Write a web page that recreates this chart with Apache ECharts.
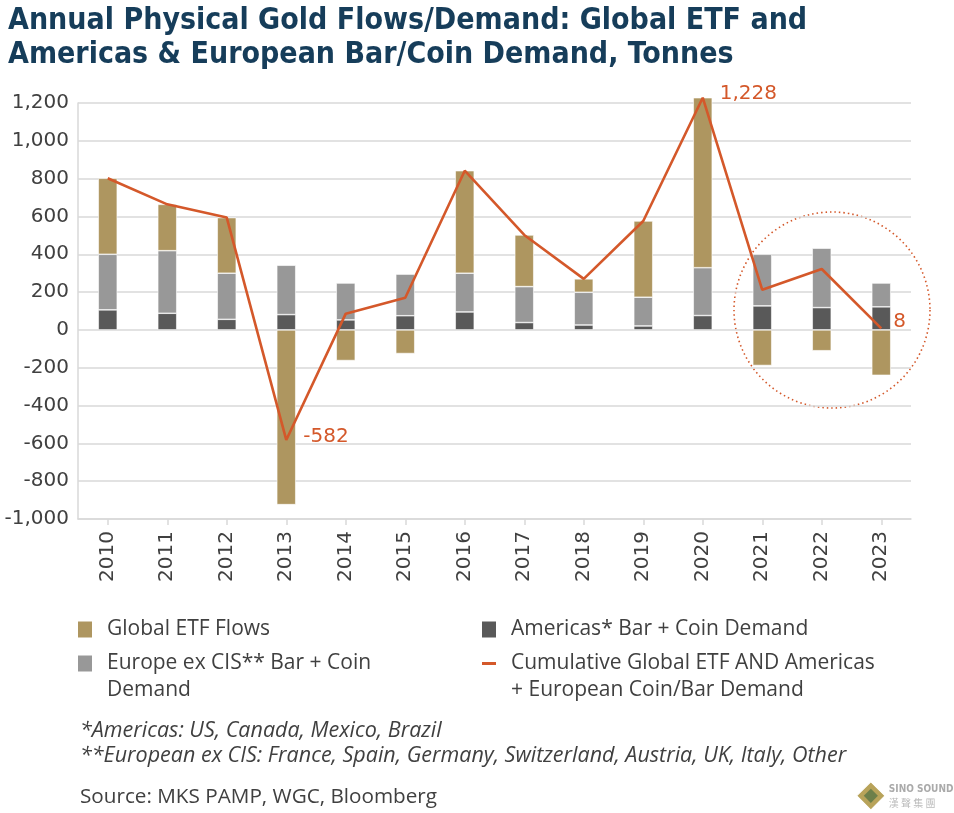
<!DOCTYPE html>
<html>
<head>
<meta charset="utf-8">
<script src="https://cdn.jsdelivr.net/npm/echarts@6/dist/echarts.min.js"></script>
<style>
html,body{margin:0;padding:0;background:#fff;}
#chart{width:954px;height:813px;}
</style>
</head>
<body>
<div id="chart"></div>
<script>
// ---- data (tonnes) ----
const years = ['2010','2011','2012','2013','2014','2015','2016','2017','2018','2019','2020','2021','2022','2023'];
const americas = [106, 88, 56, 81, 53, 75, 95, 39, 26, 21, 76, 127, 118, 122];
const europe   = [294, 331, 244, 261, 195, 220, 205, 190, 173, 152, 253, 273, 314, 126];
const etf      = [402, 245, 294, -924, -162, -125, 542, 273, 71, 403, 899, -188, -110, -240];
const cumulative = [802, 664, 594, -582, 86, 170, 842, 502, 270, 576, 1228, 212, 322, 8];
const labelledYears = ['2013', '2020', '2023'];
const yTicks = {min: -1000, max: 1200, interval: 200};

const ORANGE = '#d4582a';
const GOLD = '#ae9660';
const GREY = '#989898';
const DARK = '#595959';
const TXT = '#404040';
const NUMFONT = 'DejaVu Sans';
const TXTFONT = 'Open Sans';

const chart = echarts.init(document.getElementById('chart'), null, {renderer: 'canvas'});

const lineData = cumulative.map((v, i) => {
  const show = labelledYears.indexOf(years[i]) >= 0;
  const off = years[i] === '2020' ? [12, -4] : (years[i] === '2013' ? [12, -3] : [7, -7]);
  return show ? {value: v, label: {show: true, position: 'right', offset: off}} : v;
});

function legendItem(left, top, name, text, isLine) {
  return {
    orient: 'vertical', left: left, top: top, padding: 0,
    itemWidth: 14, itemHeight: isLine ? 3 : 16,
    icon: 'rect',
    itemGap: 0,
    data: [{name: name}],
    formatter: () => text,
    selectedMode: false,
    itemStyle: {borderWidth: 0},
    lineStyle: {width: 0},
    textStyle: {color: TXT, fontSize: 21, fontFamily: TXTFONT, lineHeight: 27, padding: [0,0,0,10]}
  };
}

const option = {
  backgroundColor: '#fff',
  animation: false,
  title: {
    text: 'Annual Physical Gold Flows/Demand: Global ETF and\nAmericas & European Bar/Coin Demand, Tonnes',
    left: 3, top: -1,
    textStyle: {color: '#163d5a', fontSize: 30, fontWeight: 'bold', fontFamily: '"DejaVu Sans Condensed", "DejaVu Sans"', lineHeight: 34}
  },
  grid: {left: 78, right: 43, top: 103, bottom: 294, containLabel: false},
  legend: [
    legendItem(78, 616, 'Global ETF Flows', 'Global ETF Flows', false),
    legendItem(78, 623, 'Europe ex CIS** Bar + Coin Demand', '\nEurope ex CIS** Bar + Coin\nDemand', false),
    legendItem(482, 616, 'Americas* Bar + Coin Demand', 'Americas* Bar + Coin Demand', false),
    legendItem(482, 623, 'Cumulative Global ETF AND Americas + European Coin/Bar Demand', '\nCumulative Global ETF AND Americas\n+ European Coin/Bar Demand', true)
  ],
  xAxis: {
    type: 'category', data: years,
    axisLine: {show: true, onZero: false, lineStyle: {color: '#d9d9d9', width: 1.5}},
    axisTick: {show: true, alignWithLabel: true, length: 6, lineStyle: {color: '#d9d9d9', width: 1.5}},
    axisLabel: {rotate: 90, margin: 12, color: TXT, fontSize: 20, fontFamily: NUMFONT}
  },
  yAxis: {
    type: 'value', min: yTicks.min, max: yTicks.max, interval: yTicks.interval,
    axisLine: {show: true, lineStyle: {color: '#d9d9d9', width: 1.5}},
    axisTick: {show: false},
    splitLine: {show: true, lineStyle: {color: '#d9d9d9', width: 1.5}},
    axisLabel: {color: TXT, fontSize: 20, fontFamily: NUMFONT, margin: 9,
      formatter: v => v.toLocaleString('en-US')}
  },
  series: [
    {name: 'Americas* Bar + Coin Demand', type: 'bar', stack: 'a', data: americas, barWidth: 19, clip: false,
     itemStyle: {color: DARK, borderColor: '#fff', borderWidth: 0.6}},
    {name: 'Europe ex CIS** Bar + Coin Demand', type: 'bar', stack: 'a', data: europe, barWidth: 19, clip: false,
     itemStyle: {color: GREY, borderColor: '#fff', borderWidth: 0.6}},
    {name: 'Global ETF Flows', type: 'bar', stack: 'a', data: etf, barWidth: 19, clip: false,
     itemStyle: {color: GOLD, borderColor: '#fff', borderWidth: 0.6}},
    {name: 'Cumulative Global ETF AND Americas + European Coin/Bar Demand', type: 'line', data: lineData,
     showSymbol: true, symbol: 'circle', symbolSize: 0.01, z: 5, clip: false,
     itemStyle: {color: ORANGE},
     lineStyle: {color: ORANGE, width: 2.6},
     label: {show: false, color: ORANGE, fontSize: 20, fontFamily: NUMFONT,
       formatter: p => Number(p.value).toLocaleString('en-US')}}
  ],
  graphic: [
    {type: 'circle', shape: {cx: 832, cy: 310, r: 98}, silent: true,
     style: {fill: null, stroke: ORANGE, lineWidth: 1.6, lineDash: [1.5, 3]}},
    {type: 'text', left: 80, top: 718,
     style: {text: '*Americas: US, Canada, Mexico, Brazil\n**European ex CIS: France, Spain, Germany, Switzerland, Austria, UK, Italy, Other',
       fill: TXT, font: 'italic 21.5px "Open Sans"', lineHeight: 25}},
    {type: 'text', left: 80, top: 787,
     style: {text: 'Source: MKS PAMP, WGC, Bloomberg', fill: TXT, font: '20.7px "Open Sans"'}},
    {type: 'group', left: 856, top: 781, children: [
      {type: 'rect', shape: {x: -10, y: -10, width: 20, height: 20}, x: 14, y: 14, rotation: Math.PI / 4,
       style: {fill: '#b8a35a', stroke: '#fff', lineWidth: 1}},
      {type: 'rect', shape: {x: -5, y: -5, width: 10, height: 10}, x: 14, y: 14, rotation: Math.PI / 4,
       style: {fill: '#6d7f4a'}},
      {type: 'text', x: 32, y: 3, style: {text: 'SINO SOUND', fill: '#aaaaaa', font: 'bold 10px "DejaVu Sans Condensed"'}},
      {type: 'text', x: 32, y: 16, style: {text: '漢 聲 集 團', fill: '#bbbbbb', font: '10px "Noto Sans CJK TC"'}}
    ]}
  ]
};
chart.setOption(option);
</script>
</body>
</html>
